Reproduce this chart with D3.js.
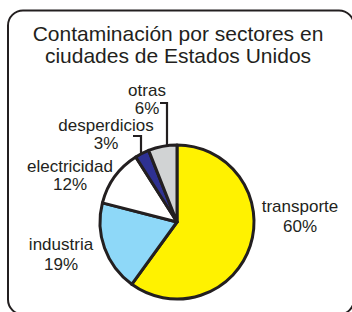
<!DOCTYPE html>
<html><head><meta charset="utf-8">
<script src="https://cdn.jsdelivr.net/npm/d3@7"></script>
<style>html,body{margin:0;padding:0;background:#fff;}svg{display:block;}</style>
</head><body>
<svg id="c" width="352" height="312"></svg>
<script>
const titleLines = ["Contaminación por sectores en", "ciudades de Estados Unidos"];
const categories = ["transporte", "industria", "electricidad", "desperdicios", "otras"];
const values = [60, 19, 12, 3, 6];
const colors = ["#fff200", "#8ed8f8", "#ffffff", "#2e3192", "#d1d3d4"];

// layout (not data): label centre x, baseline of name, baseline of percentage
const labelLayout = [[300, 212, 232], [61, 250, 270], [70, 172, 190], [106, 131, 149], [147, 96, 114]];

const svg = d3.select("#c");
const font = "'Liberation Sans', Arial, Helvetica, sans-serif";
const ink = "#231f20";

svg.append("rect").attr("x", 8).attr("y", 10.5).attr("width", 346).attr("height", 304)
  .attr("rx", 15).attr("fill", "none").attr("stroke", ink).attr("stroke-width", 2);

svg.append("text").attr("x", 178).attr("y", 41).attr("text-anchor", "middle")
  .attr("font-family", font).attr("font-size", 21).attr("fill", ink)
  .selectAll("tspan").data(titleLines).join("tspan")
  .attr("x", 178).attr("dy", (d, i) => i ? 22 : 0).text(d => d);

const cx = 177, cy = 222, r = 77;
const pie = d3.pie().sort(null).value(d => d.v);
const data = categories.map((c, i) => ({c, v: values[i], col: colors[i], pos: labelLayout[i]}));
const arcs = pie(data);
const arc = d3.arc().innerRadius(0).outerRadius(r);
const g = svg.append("g").attr("transform", `translate(${cx},${cy})`);
g.selectAll("path").data(arcs).join("path")
  .attr("d", arc).attr("fill", d => d.data.col)
  .attr("stroke", ink).attr("stroke-width", 3).attr("stroke-linejoin", "round");

// labels
arcs.forEach(a => {
  const p = a.data.pos;
  const t = svg.append("text").attr("text-anchor", "middle").attr("font-family", font)
    .attr("font-size", 17).attr("fill", ink);
  t.append("tspan").attr("x", p[0]).attr("y", p[1]).text(a.data.c);
  t.append("tspan").attr("x", p[0]).attr("y", p[2]).text(a.data.v + "%");
});

// leader lines for the small slices (otras, desperdicios)
function leader(hx0, hy, vx) {
  const dx = vx - cx;
  const ey = cy - Math.sqrt(r * r - dx * dx);
  svg.append("path").attr("d", `M${hx0},${hy}H${vx}V${ey}`)
    .attr("fill", "none").attr("stroke", ink).attr("stroke-width", 2.2);
}
leader(160, 103, 167);
leader(133, 136, 141);
</script>
</body></html>
